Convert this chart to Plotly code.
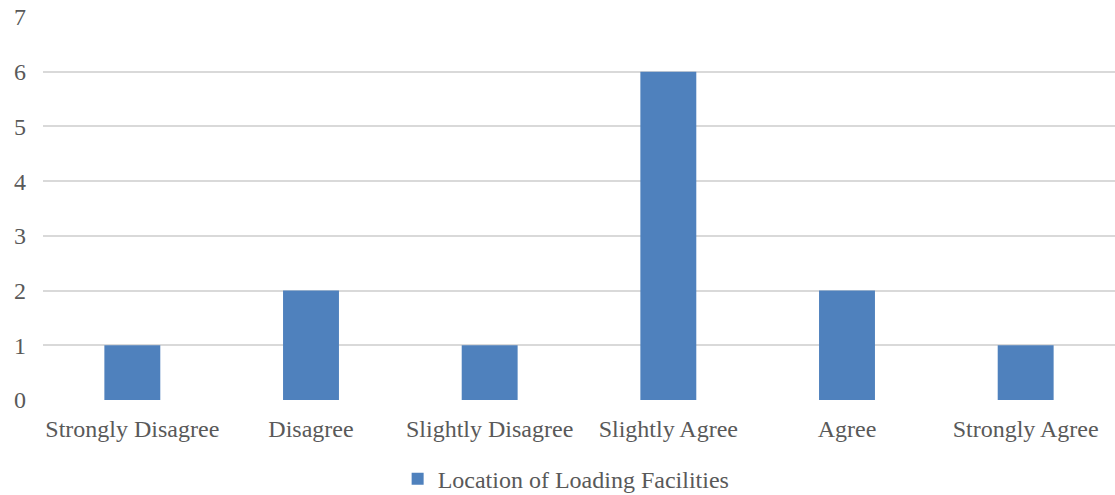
import plotly.graph_objects as go

categories = ["Strongly Disagree", "Disagree", "Slightly Disagree",
              "Slightly Agree", "Agree", "Strongly Agree"]
counts = [1, 2, 1, 6, 2, 1]
series_name = "Location of Loading Facilities"
y_ticks = [0, 1, 2, 3, 4, 5, 6, 7]

font = dict(family="Times New Roman, Liberation Serif, serif", size=24, color="#595959")

fig = go.Figure(go.Bar(
    x=categories, y=counts, name=series_name,
    marker=dict(color="#4F81BD", line=dict(width=0)),
    showlegend=True,
))

fig.update_layout(
    width=1115, height=495,
    margin=dict(l=43, r=0, t=17, b=95, autoexpand=False),
    paper_bgcolor="white", plot_bgcolor="white",
    font=font,
    bargap=0.687,
    showlegend=True,
    legend=dict(orientation="h", x=0.488, xanchor="center", y=-0.148, yanchor="top",
                font=font, itemwidth=30),
    xaxis=dict(showgrid=False, showline=False, ticks="", tickfont=font,
               automargin=False, ticklabelstandoff=12),
    yaxis=dict(range=[0, 7], tickvals=y_ticks, showgrid=True, gridcolor="#D9D9D9",
               gridwidth=1.5, zeroline=False, showline=False, ticks="", tickfont=font,
               ticklabelstandoff=16, automargin=False),
)

fig.write_html("out.html")
